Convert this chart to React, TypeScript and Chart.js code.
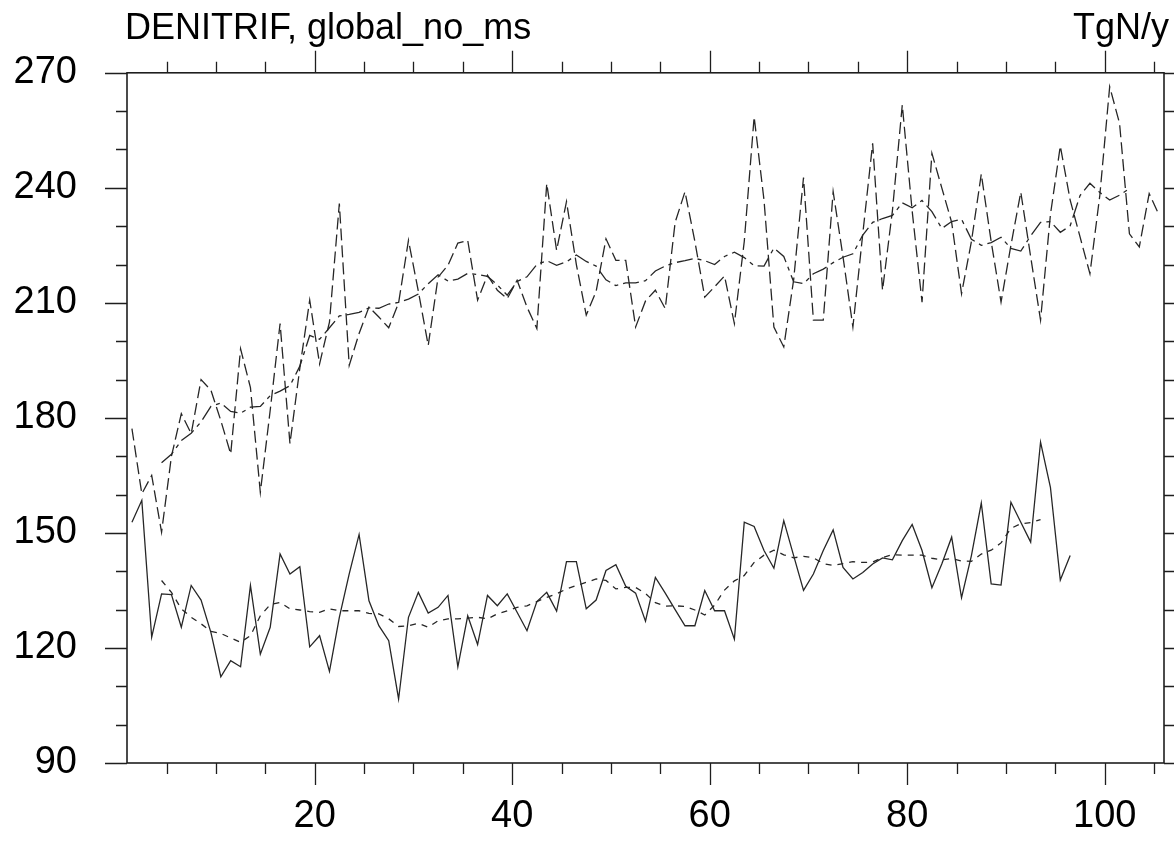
import { useEffect, useRef } from "react";
import { Chart, registerables } from "chart.js";

Chart.register(...registerables);

// ---- text ----
const titleLeft = "DENITRIF, global_no_ms";
const titleRight = "TgN/y";

// ---- axes ----
const xMin = 1;
const xMax = 106;
const yMin = 90;
const yMax = 270;
const xFirst = 1.5; // x of the first sample (mid-year)
const xMajorTicks = [20, 40, 60, 80, 100];
const yMajorTicks = [90, 120, 150, 180, 210, 240, 270];
const xMinorStep = 5;
const yMinorStep = 10;

// ---- series (upper: dashed raw + its running mean) ----
const upperRaw = [
  177.2, 160.2, 165, 150.2, 170, 181.1, 175.9, 190, 187.2, 179.3,
  170.6, 198, 187.9, 160.6, 182, 204.6, 173.3, 193, 210.7, 194.1,
  205, 235.9, 193.7, 202, 208.9, 206.3, 203.5, 210, 226.3, 213,
  198.9, 216.7, 219.8, 225.6, 226.3, 210.7, 217.2, 213.3, 211.1, 215.9,
  208.9, 203.3, 241.1, 223.7, 236.4, 220, 206.8, 213, 226.7, 221.1,
  221.1, 203.7, 210.5, 213.3, 208.5, 231, 239, 226, 211.5, 214.2,
  217, 204.6, 226, 258.5, 236.8, 203.7, 198.5, 216, 242.7, 205.5,
  205.5, 239, 222, 203.7, 228, 251.6, 213.3, 234, 261.6, 234,
  210.2, 249, 240, 231, 212.4, 226, 243.6, 226, 210.2, 225,
  238.9, 222, 205.5, 233, 250.9, 236.8, 227.2, 217.6, 238, 266.4,
  256.8, 228, 224.6, 238.5, 232.9,
];

const upperSmooth = [
  null, null, null, 168.3, 170.5, 174.1, 176, 179, 183, 183.9,
  181.7, 181.2, 182.8, 183, 185.8, 187, 188.4, 193.5, 201.5, 200.5,
  203.5, 206.6, 207, 207.5, 208.7, 208.6, 209.7, 210.1, 211, 212.3,
  215, 217.3, 215.7, 216.2, 217.7, 217.4, 216.9, 214.7, 212, 215.6,
  216.8, 220, 221, 219.8, 220.7, 222.5, 220.8, 219.6, 216, 214.5,
  215.2, 215.2, 215.8, 218.3, 219.6, 220.5, 221, 221.6, 221, 220,
  222.1, 223.2, 221.8, 219.7, 219.6, 224.3, 222.1, 215.5, 215, 217.6,
  218.8, 220.5, 221.9, 222.8, 227.7, 231, 232, 232.8, 236.1, 234.8,
  236.7, 233.8, 229.4, 231.2, 231.8, 226.6, 225, 225.7, 227.1, 224.2,
  223.5, 227.5, 231, 231.2, 228.4, 230.1, 238, 241.2, 238.8, 236.8,
  238.1, 239.8, null, null, null,
];

// ---- series (lower: solid raw + its running mean) ----
const lowerRaw = [
  152.8, 158.5, 122.8, 134.1, 133.9, 125.4, 136.3, 132.5, 124, 112.5,
  116.7, 115.1, 136.3, 118.4, 125.4, 144.5, 139.3, 141.2, 120.3, 123.2,
  113.9, 128, 139.3, 149.6, 132.3, 125.8, 121.9, 106.7, 128, 134.5,
  129.1, 130.6, 133.7, 115.1, 128.4, 120.9, 133.7, 131, 134.1, 129.3,
  124.5, 132.1, 134.5, 129.6, 142.5, 142.5, 130.2, 132.5, 140.2, 141.7,
  136.1, 134.3, 127, 138.4, 134.3, 130, 125.8, 125.8, 135, 129.7,
  129.7, 122.3, 152.8, 151.7, 145.4, 140.8, 153.2, 144.1, 135, 139.3,
  145.4, 150.8, 141, 138, 139.7, 141.9, 143.5, 143, 148, 152.2,
  145.4, 135.7, 141.9, 148.9, 133.1, 144.1, 157.8, 136.7, 136.4, 158,
  152.8, 147.6, 173.7, 161.9, 137.7, 144.1,
];

const lowerSmooth = [
  null, null, null, 137.6, 134.5, 130.2, 128, 126.3, 124.3, 123.8,
  122.6, 121.5, 123.2, 128.4, 131.3, 131.9, 130.2, 129.9, 129.5, 129.3,
  130.2, 129.7, 129.7, 129.7, 129, 128.9, 127.6, 125.6, 125.8, 126.4,
  125.4, 127.1, 127.6, 127.6, 127.8, 128, 127.6, 128.9, 129.7, 130.6,
  131, 132.1, 133.2, 134.1, 135.4, 136.3, 137.1, 138, 137.6, 135.4,
  135.8, 135.8, 134.2, 131.8, 130.9, 131, 130.8, 129.9, 128.6, 131.2,
  135.1, 137.5, 138.9, 142.3, 144.2, 145.5, 144.3, 143.5, 143.9, 143.5,
  142, 141.5, 142, 142.5, 142.3, 142.4, 143.6, 144.3, 144.2, 144.2,
  144.2, 143.4, 143, 143.3, 142.7, 142.6, 144.5, 145.5, 147.4, 151.2,
  152.4, 152.7, 153.5, null, null, null,
];

const FONT = '"Liberation Sans", Arial, Helvetica, sans-serif';
const INK = "#262626";

const toPoints = (arr: (number | null)[]) =>
  arr.map((v, i) => ({ x: xFirst + i, y: v }));

const frameAndTicks = {
  id: "frameAndTicks",
  afterDatasetsDraw(chart: any) {
    const { ctx, chartArea } = chart;
    const { left, right, top, bottom } = chartArea;
    const xs = chart.scales.x;
    const ys = chart.scales.y;
    ctx.save();
    ctx.strokeStyle = "#1e1e1e";
    ctx.lineWidth = 1.6;
    ctx.strokeRect(left, top, right - left, bottom - top);
    ctx.lineWidth = 1.3;
    ctx.beginPath();
    const first = Math.ceil(xMin / xMinorStep) * xMinorStep;
    for (let v = first; v <= xMax; v += xMinorStep) {
      const px = Math.round(xs.getPixelForValue(v)) + 0.5;
      const len = xMajorTicks.includes(v) ? 22 : 11;
      ctx.moveTo(px, bottom);
      ctx.lineTo(px, bottom + len);
      ctx.moveTo(px, top);
      ctx.lineTo(px, top - len);
    }
    for (let v = yMin; v <= yMax; v += yMinorStep) {
      const py = Math.round(ys.getPixelForValue(v)) + 0.5;
      const len = yMajorTicks.includes(v) ? 22 : 11;
      ctx.moveTo(left, py);
      ctx.lineTo(left - len, py);
      ctx.moveTo(right, py);
      ctx.lineTo(right + len, py);
    }
    ctx.stroke();

    ctx.fillStyle = "#000";
    ctx.font = `36px ${FONT}`;
    ctx.textBaseline = "alphabetic";
    ctx.textAlign = "left";
    ctx.fillText(titleLeft, 125, 39);
    ctx.textAlign = "right";
    ctx.fillText(titleRight, 1169, 39);
    ctx.restore();
  },
};

export default function App() {
  const ref = useRef<HTMLCanvasElement>(null);

  useEffect(() => {
    const lineBase = {
      pointRadius: 0,
      pointHoverRadius: 0,
      borderColor: INK,
      borderWidth: 1.3,
      tension: 0,
      fill: false,
      spanGaps: false,
    };
    const chart = new Chart(ref.current as HTMLCanvasElement, {
      type: "line",
      data: {
        datasets: [
          { ...lineBase, label: "upper", data: toPoints(upperRaw), borderDash: [12, 5] },
          { ...lineBase, label: "upper mean", data: toPoints(upperSmooth), borderDash: [16, 5, 4, 5] },
          { ...lineBase, label: "lower", data: toPoints(lowerRaw) },
          { ...lineBase, label: "lower mean", data: toPoints(lowerSmooth), borderDash: [6, 6] },
        ],
      },
      options: {
        responsive: false,
        devicePixelRatio: 1,
        animation: false,
        parsing: { xAxisKey: "x", yAxisKey: "y" },
        layout: { padding: { top: 71, right: 10, bottom: 0, left: 0 } },
        plugins: {
          legend: { display: false },
          tooltip: { enabled: false },
          title: { display: false },
        },
        scales: {
          x: {
            type: "linear",
            position: "bottom",
            min: xMin,
            max: xMax,
            grid: { display: false, drawTicks: false },
            border: { display: false },
            ticks: {
              stepSize: 20,
              includeBounds: false,
              autoSkip: false,
              maxRotation: 0,
              padding: 31,
              color: "#000",
              font: { family: FONT, size: 38 },
              callback: (v: any) => String(v),
            },
            afterFit: (s: any) => {
              s.height = 83;
            },
          },
          y: {
            type: "linear",
            position: "left",
            min: yMin,
            max: yMax,
            grid: { display: false, drawTicks: false },
            border: { display: false },
            ticks: {
              stepSize: 30,
              autoSkip: false,
              padding: 50,
              color: "#000",
              font: { family: FONT, size: 38 },
              callback: (v: any) => String(v),
            },
            afterFit: (s: any) => {
              s.width = 127;
            },
          },
        },
      },
      plugins: [frameAndTicks],
    } as any);
    return () => chart.destroy();
  }, []);

  return (
    <div
      style={{
        position: "absolute",
        left: 0,
        top: 0,
        width: 1174,
        height: 846,
        background: "#fff",
      }}
    >
      <canvas ref={ref} width={1174} height={846} style={{ display: "block" }} />
    </div>
  );
}
